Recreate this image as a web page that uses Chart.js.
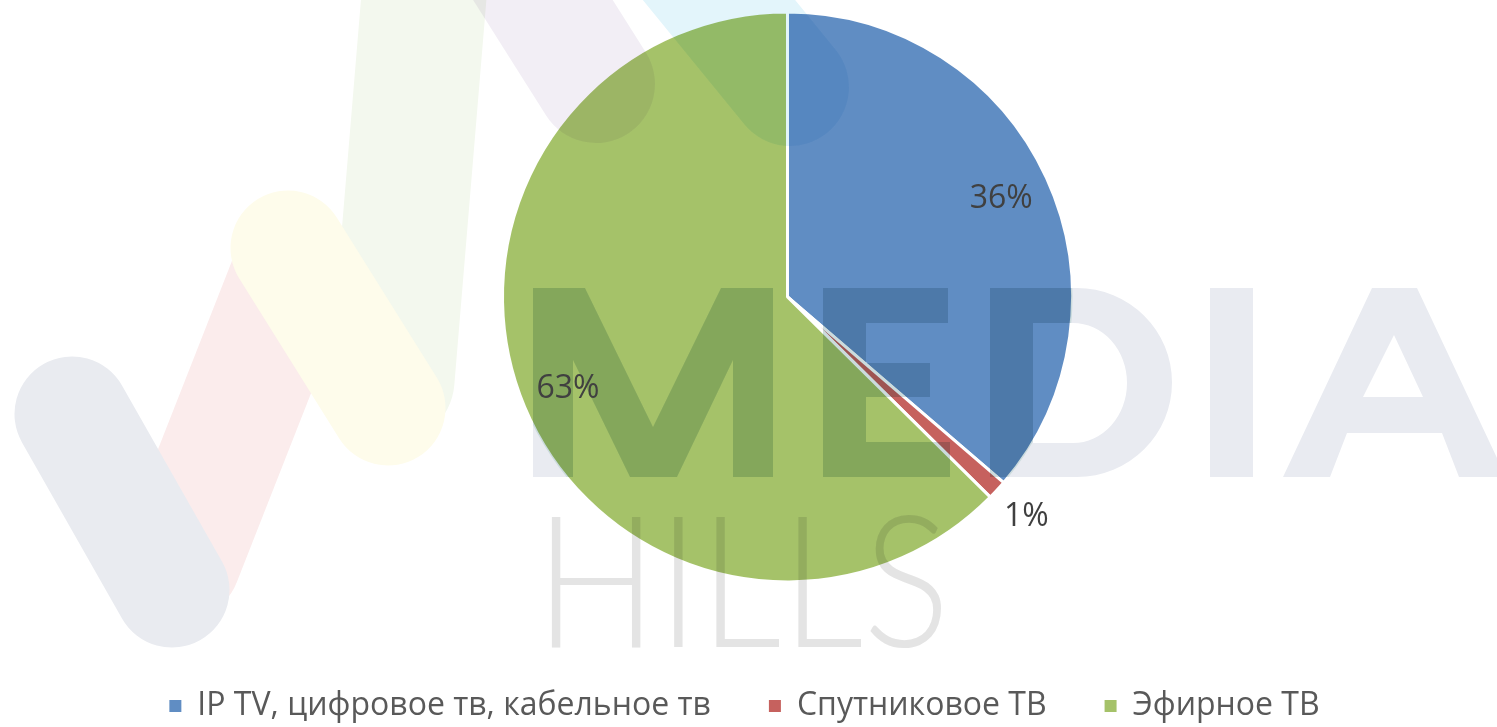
<!DOCTYPE html>
<html>
<head>
<meta charset="utf-8">
<script src="https://cdn.jsdelivr.net/npm/chart.js@4"></script>
<style>
    html, body { margin: 0; padding: 0; background: #ffffff; }
    #wrap { width: 1497px; height: 727px; position: relative; }
</style>
</head>
<body>
<div id="wrap"><canvas id="pieChart"></canvas></div>
<script>
// Chart data
const categories = ['IP TV, цифровое тв, кабельное тв', 'Спутниковое ТВ', 'Эфирное ТВ'];
const shares = [36.3, 1.1, 62.6];

// Styling
const sliceColors = ['rgba(79,129,189,0.9)', 'rgba(192,80,77,0.9)', 'rgba(155,187,89,0.9)'];
const labelRadius = [0.825, 1.14, 0.835];

// "MEDIA" letters as plain shapes
function mediaPath() {
    const p = new Path2D();
    const poly = pts => {
        p.moveTo(pts[0][0], pts[0][1]);
        pts.slice(1).forEach(q => p.lineTo(q[0], q[1]));
        p.closePath();
    };
    poly([[533,477],[533,288],[585,288],[653,427],[721,288],[773,288],[773,477],[733,477],[733,360],[677,477],[630,477],[573,360],[573,477]]);
    poly([[823,288],[948,288],[948,323],[866,323],[866,363],[930,363],[930,397],[866,397],[866,442],[950,442],[950,477],[823,477]]);
    p.moveTo(990, 288);
    p.lineTo(1077, 288);
    p.ellipse(1077, 382.5, 95, 94.5, 0, -Math.PI / 2, Math.PI / 2, false);
    p.lineTo(990, 477);
    p.closePath();
    p.moveTo(1033, 323);
    p.lineTo(1033, 443);
    p.lineTo(1073, 443);
    p.ellipse(1073, 383, 54, 60, 0, Math.PI / 2, -Math.PI / 2, true);
    p.closePath();
    p.rect(1210, 288, 43, 189);
    poly([[1283,477],[1372,288],[1417,288],[1506,477],[1459,477],[1442,433],[1347,433],[1330,477]]);
    poly([[1394,335],[1423,397],[1363,397]]);
    return p;
}

function stroke(ctx, color, width, x1, y1, x2, y2, cap) {
    ctx.strokeStyle = color;
    ctx.lineWidth = width;
    ctx.lineCap = cap || 'round';
    ctx.beginPath();
    ctx.moveTo(x1, y1);
    ctx.lineTo(x2, y2);
    ctx.stroke();
}

function drawWatermark(ctx, pie) {
    ctx.save();
    // left part of the logo (no overlap with the pie)
    stroke(ctx, '#fbecec', 122, 180, 560, 290, 280);
    stroke(ctx, '#f3f8ee', 125, 427, -40, 392, 380);
    stroke(ctx, '#e9ebf0', 115, 72, 414, 172, 590);
    stroke(ctx, '#fefceb', 115, 288, 248, 388, 408);

    ctx.globalCompositeOperation = 'multiply';
    stroke(ctx, '#f2eef5', 118, 505, -60, 596, 84);
    stroke(ctx, '#e3f5fb', 118, 670, -60, 790, 87);

    const letters = mediaPath();
    ctx.fillStyle = '#e9ebf1';
    ctx.fill(letters, 'evenodd');

    ctx.fillStyle = '#e4e4e4';
    ctx.font = '300 184px Lato';
    ctx.textBaseline = 'alphabetic';
    ctx.textAlign = 'left';
    ctx.fillText('HILLS', 535, 647, 415);

    // letters look a bit darker where they cross the pie
    ctx.beginPath();
    ctx.arc(pie.x, pie.y, pie.r, 0, Math.PI * 2);
    ctx.clip();
    ctx.fillStyle = '#dfeeea';
    ctx.fill(letters, 'evenodd');
    ctx.restore();
}

const overlayPlugin = {
    id: 'overlay',
    afterDatasetsDraw(chart) {
        const ctx = chart.ctx;
        const meta = chart.getDatasetMeta(0);
        const first = meta.data[0].getProps(['x', 'y', 'outerRadius'], true);
        drawWatermark(ctx, { x: first.x, y: first.y, r: first.outerRadius });

        const total = shares.reduce((a, b) => a + b, 0);
        ctx.save();
        ctx.fillStyle = '#404040';
        ctx.font = '32px "Open Sans"';
        ctx.textAlign = 'center';
        ctx.textBaseline = 'middle';
        meta.data.forEach((arc, i) => {
            const p = arc.getProps(['x', 'y', 'startAngle', 'endAngle', 'outerRadius'], true);
            const mid = (p.startAngle + p.endAngle) / 2;
            const r = p.outerRadius * labelRadius[i];
            const pct = Math.round(shares[i] / total * 100) + '%';
            ctx.fillText(pct, p.x + Math.cos(mid) * r, p.y + Math.sin(mid) * r);
        });
        ctx.restore();
    }
};

const ctx = document.getElementById('pieChart').getContext('2d');
new Chart(ctx, {
    type: 'pie',
    data: {
        labels: categories,
        datasets: [{
            data: shares,
            backgroundColor: sliceColors,
            borderColor: '#ffffff',
            borderWidth: 3,
            radius: 285
        }]
    },
    options: {
        responsive: true,
        maintainAspectRatio: false,
        animation: false,
        layout: { padding: { left: 78, bottom: -5 } },
        plugins: {
            tooltip: { enabled: false },
            legend: {
                position: 'bottom',
                title: { display: true, text: '', font: { size: 1 }, padding: { top: 37, bottom: 0 } },
                labels: {
                    boxWidth: 12,
                    boxHeight: 12,
                    padding: 58,
                    color: '#595959',
                    font: { family: '"Open Sans"', size: 32 },
                    generateLabels(chart) {
                        const items = Chart.overrides.pie.plugins.legend.labels.generateLabels(chart);
                        items.forEach(it => { it.strokeStyle = 'transparent'; it.lineWidth = 0; });
                        // spacer so the legend row stays centred on the page, not on the pie
                        items.push({ text: '', fillStyle: 'transparent', strokeStyle: 'transparent', lineWidth: 0, hidden: false, index: -1 });
                        return items;
                    }
                }
            }
        }
    },
    plugins: [overlayPlugin]
});
</script>
</body>
</html>
